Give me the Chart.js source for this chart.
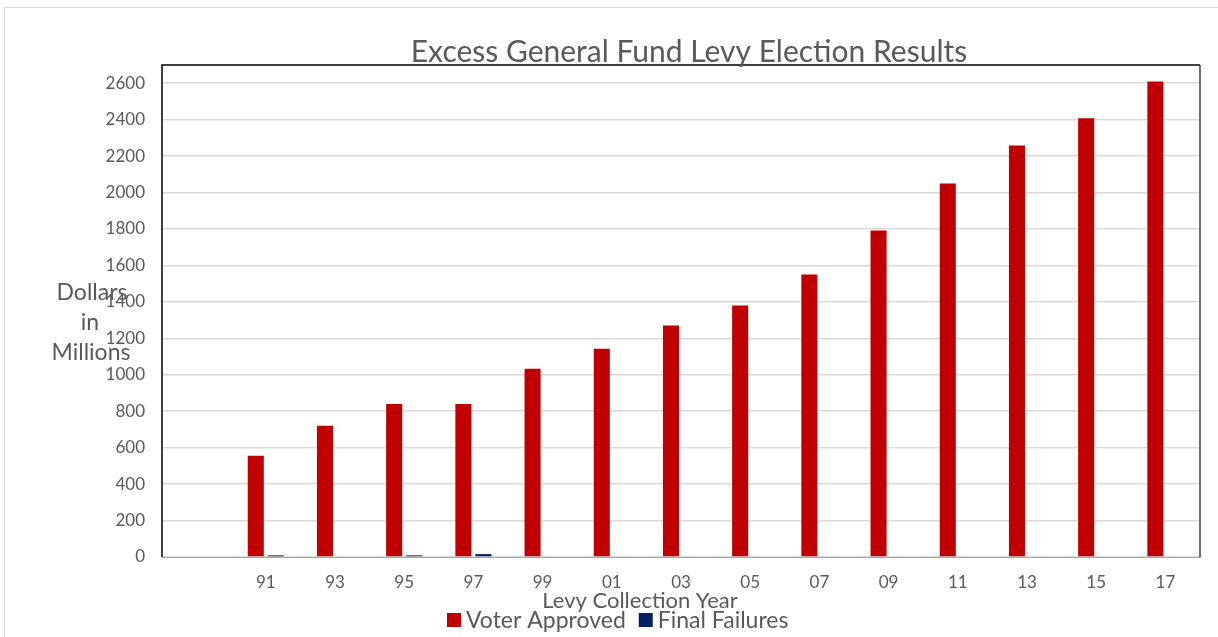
<!DOCTYPE html>
<html>
<head>
<meta charset="utf-8">
<script src="https://cdn.jsdelivr.net/npm/chart.js@4"></script>
<style>
    html, body { margin: 0; padding: 0; background: #fff; }
    #wrap { position: relative; width: 1218px; height: 637px; }
    #frame { position: absolute; left: 4px; top: 7px; right: -2px; bottom: -2px; border: 1px solid #d9d9d9; }
</style>
</head>
<body>
<div id="wrap">
    <div id="frame"></div>
    <canvas id="levyChart" width="1218" height="637"></canvas>
</div>
<script>
    // Chart data
    var years = ['', '91', '93', '95', '97', '99', '01', '03', '05', '07', '09', '11', '13', '15', '17'];
    var voterApproved = [null, 555, 720, 840, 840, 1033, 1143, 1270, 1380, 1550, 1792, 2050, 2258, 2408, 2610];
    var finalFailures = [null, 9, 0, 9, 16, 0, 0, 0, 0, 0, 0, 0, 0, 0, 0];
    var yTicks = [0, 200, 400, 600, 800, 1000, 1200, 1400, 1600, 1800, 2000, 2200, 2400, 2600];

    var textColor = '#595959';
    var fontName = 'Lato, "Open Sans", sans-serif';

    // Title, axis titles, legend and plot border drawn on top
    var decorations = {
        id: 'decorations',
        afterDraw: function (chart) {
            var ctx = chart.ctx;
            var area = chart.chartArea;
            ctx.save();

            // plot border
            ctx.strokeStyle = '#000';
            ctx.lineWidth = 1.5;
            ctx.beginPath();
            ctx.moveTo(area.left, area.bottom);
            ctx.lineTo(area.left, area.top);
            ctx.lineTo(area.right, area.top);
            ctx.stroke();
            ctx.strokeStyle = '#404040';
            ctx.beginPath();
            ctx.moveTo(area.right, area.top);
            ctx.lineTo(area.right, area.bottom);
            ctx.stroke();

            ctx.fillStyle = textColor;
            ctx.textAlign = 'center';
            ctx.textBaseline = 'alphabetic';

            // title
            ctx.font = '30px ' + fontName;
            ctx.fillText('Excess General Fund Levy Election Results', 689, 62);

            // y axis title
            ctx.font = '23px ' + fontName;
            ctx.fillText('Dollars', 92, 300);
            ctx.fillText('in', 90, 330);
            ctx.fillText('Millions', 91, 360);

            // x axis title
            ctx.font = '22px ' + fontName;
            ctx.fillText('Levy Collection Year', 640, 608);

            // legend
            var items = [
                { label: 'Voter Approved', color: '#C00000' },
                { label: 'Final Failures', color: '#002060' }
            ];
            ctx.font = '23px ' + fontName;
            ctx.textAlign = 'left';
            var x = 447;
            items.forEach(function (item) {
                ctx.fillStyle = item.color;
                ctx.fillRect(x, 613, 14, 14);
                ctx.fillStyle = textColor;
                ctx.fillText(item.label, x + 19, 628);
                x += 19 + ctx.measureText(item.label).width + 13;
            });

            ctx.restore();
        }
    };

    var ctx = document.getElementById('levyChart').getContext('2d');
    var levyChart = new Chart(ctx, {
        type: 'bar',
        data: {
            labels: years,
            datasets: [{
                label: 'Voter Approved',
                data: voterApproved,
                backgroundColor: '#C00000',
                categoryPercentage: 0.58,
                barPercentage: 0.8
            },
            {
                label: 'Final Failures',
                data: finalFailures,
                backgroundColor: '#002060',
                categoryPercentage: 0.58,
                barPercentage: 0.8
            }]
        },
        options: {
            responsive: false,
            animation: false,
            layout: {
                padding: { left: 0, top: 65, right: 18, bottom: 0 }
            },
            scales: {
                x: {
                    grid: { display: false, drawTicks: false },
                    border: { color: '#a6a6a6', width: 1 },
                    ticks: {
                        color: textColor,
                        font: { family: fontName, size: 17 },
                        padding: 15,
                        maxRotation: 0,
                        autoSkip: false
                    },
                    afterFit: function (scale) { scale.height = 80; }
                },
                y: {
                    min: 0,
                    max: 2700,
                    afterBuildTicks: function (scale) {
                        scale.ticks = yTicks.map(function (v) { return { value: v }; });
                    },
                    grid: { color: '#d9d9d9', lineWidth: 1.5, drawTicks: false },
                    border: { display: false },
                    ticks: {
                        color: textColor,
                        font: { family: fontName, size: 17 },
                        padding: 17,
                        callback: function (value) { return String(value); }
                    },
                    afterFit: function (scale) { scale.width = 162; }
                }
            },
            plugins: {
                legend: { display: false },
                title: { display: false },
                tooltip: { enabled: false }
            }
        },
        plugins: [decorations]
    });
</script>
</body>
</html>
